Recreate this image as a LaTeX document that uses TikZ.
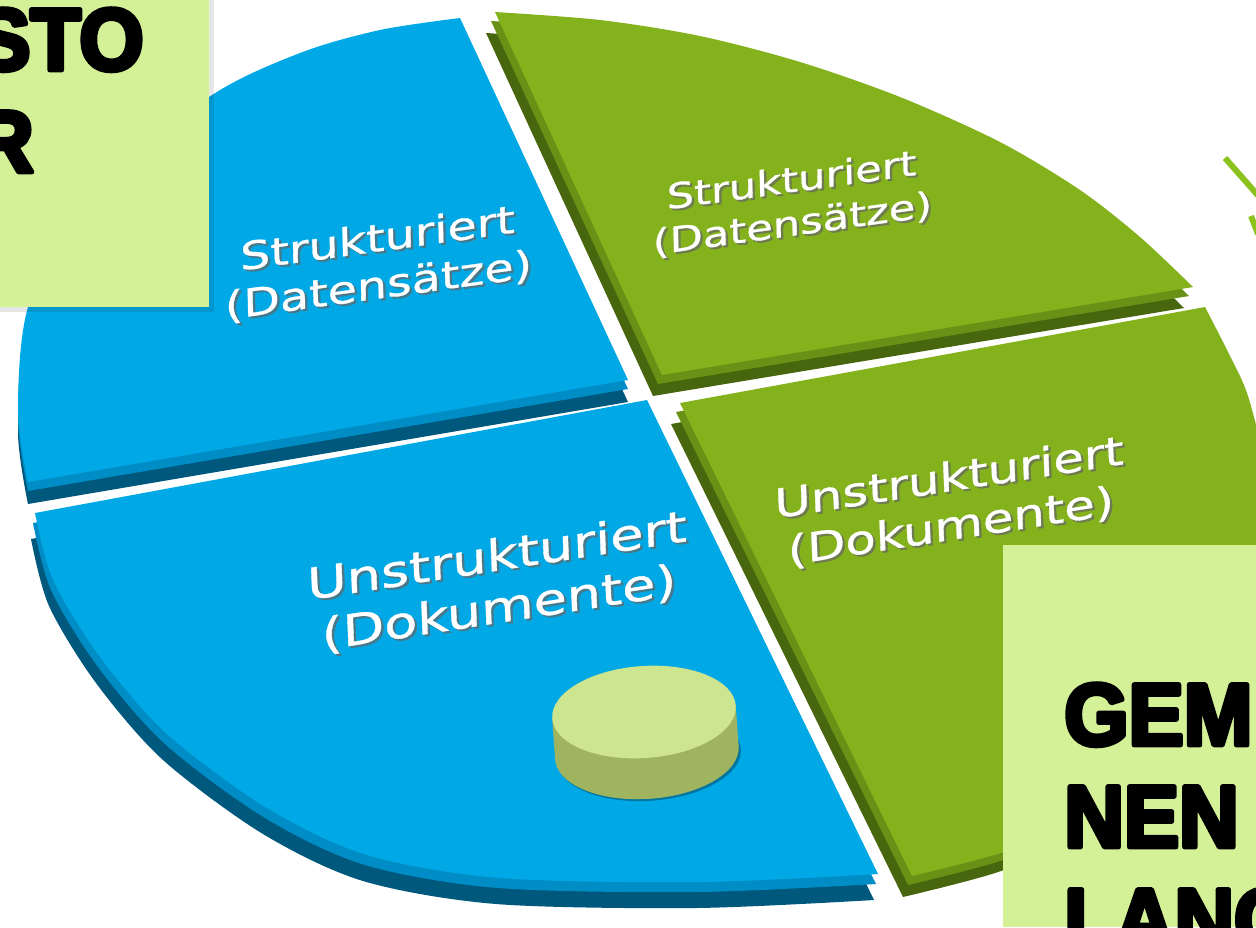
\documentclass[tikz,border=0pt]{standalone}
\usepackage{fontspec}
\newfontfamily\labelfont{DejaVu Sans}[FakeStretch=1.22, FakeBold=0.8]
\newfontfamily\heavyfont{Liberation Sans}[UprightFont={* Bold}, FakeBold=5.5, FakeStretch=0.94]

\definecolor{blueface}{RGB}{0,169,230}
\definecolor{bluebevel}{RGB}{0,140,196}
\definecolor{blueside}{RGB}{0,88,125}
\definecolor{greenface}{RGB}{132,178,28}
\definecolor{greenbevel}{RGB}{105,145,22}
\definecolor{greenside}{RGB}{72,102,14}
\definecolor{boxgreen}{RGB}{212,241,152}
\definecolor{knobtop}{RGB}{204,229,142}
\definecolor{knobside}{RGB}{160,180,96}
\definecolor{checkgreen}{RGB}{140,194,30}

% outlines of the four pie pieces (pixel units, y downwards)
\newcommand{\wedgeBlueTop}{(460,18) -- (628,380) -- (28,482) -- plot[smooth] coordinates {(28,482) (18,410) (28,307) (80,200) (209,97) (300,53) (380,30) (460,18)} -- cycle}
\newcommand{\wedgeBlueLow}{(35,513) -- (647,400) -- (878,874) -- plot[smooth] coordinates {(878,874) (700,882) (500,878) (367,855) (267,808) (167,734) (100,657) (53,580) (35,513)} -- cycle}
\newcommand{\wedgeGreenTop}{(495,12) -- plot[smooth] coordinates {(495,12) (600,20) (700,36) (800,62) (900,97) (1000,142) (1080,190) (1140,237) (1193,287)} -- (662,375) -- cycle}
\newcommand{\wedgeGreenLow}{(680,403) -- (1205,307) -- plot[smooth] coordinates {(1205,307) (1227,350) (1247,393) (1265,460)} -- (1290,700) -- plot[smooth] coordinates {(1270,690) (1200,760) (1100,815) (1004,852) (912,876)} -- cycle}

\begin{document}
\begin{tikzpicture}[x=0.02cm, y=-0.02cm,
    lbl/.style={text=white, align=center, inner sep=0pt, xslant=0.12},
    lblshadow/.style={text=black!60, align=center, inner sep=0pt, xslant=0.12, opacity=0.7},
    big/.style={font=\heavyfont\fontsize{50}{58}\selectfont, inner sep=0pt, line join=round},
    notebox/.style={fill=boxgreen},
    checkline/.style={draw=checkgreen, line width=3.4pt}]
    \useasboundingbox (0,0) rectangle (1256,927);

    % blue half
    \fill[blueside, shift={(0,22)}] \wedgeBlueTop;
    \fill[bluebevel, shift={(0,9)}] \wedgeBlueTop;
    \fill[blueface] \wedgeBlueTop;
    \fill[blueside, shift={(-4,26)}] \wedgeBlueLow;
    \fill[bluebevel, shift={(-2,10)}] \wedgeBlueLow;
    \fill[blueface] \wedgeBlueLow;

    % green half
    \fill[greenside, shift={(-9,21)}] \wedgeGreenTop;
    \fill[greenbevel, shift={(-4,9)}] \wedgeGreenTop;
    \fill[greenface] \wedgeGreenTop;
    \fill[greenside, shift={(-9,21)}] \wedgeGreenLow;
    \fill[greenbevel, shift={(-4,9)}] \wedgeGreenLow;
    \fill[greenface] \wedgeGreenLow;

    % labels with drop shadow
    \foreach \nm/\px/\py/\ang/\sz/\sk/\txt in {
        blueS/378/263/8/22/27/{Strukturiert\\(Datensätze)},
        greenS/792/203/8/20/25/{Strukturiert\\(Datensätze)},
        blueU/498/583/9/25/30/{Unstrukturiert\\(Dokumente)},
        greenU/950/503/9/23/28/{Unstrukturiert\\(Dokumente)}}{
        \node[lblshadow, rotate=\ang, xshift=1.3pt, yshift=-1.3pt,
            font=\labelfont\fontsize{\sz}{\sk}\selectfont] (\nm-s) at (\px,\py) {\txt};
        \node[lbl, rotate=\ang,
            font=\labelfont\fontsize{\sz}{\sk}\selectfont] (\nm) at (\px,\py) {\txt};
    }

    % knob
    \begin{scope}[rotate around={4:(644,712)}]
        \fill[black, opacity=0.3] (646,756) ellipse [x radius=92, y radius=45];
        \fill[knobside] (644,753) ellipse [x radius=92, y radius=46];
        \fill[knobside] (552,712) rectangle (736,753);
        \fill[knobtop] (644,712) ellipse [x radius=92, y radius=46];
    \end{scope}

    % note boxes
    \fill[black, opacity=0.1] (0,0) rectangle (214,312);
    \fill[notebox] (0,0) rectangle (209,307);
    \node[big, anchor=base east] (sto) at (144,70) {STO};
    \node[big, anchor=base east] (r) at (34,172) {R};

    \fill[notebox] (1003,545) rectangle (1256,927);
    \node[big, anchor=base west] (gem) at (1064,745) {GEM};
    \node[big, anchor=base west] (nen) at (1064,847) {NEN};
    \node[big, anchor=base west] (lang) at (1064,950) {LANG};

    % check mark stubs at the right edge
    \draw[checkline] (1225,158) -- (1262,200);
    \draw[checkline] (1251,216) -- (1258,234);
\end{tikzpicture}
\end{document}
